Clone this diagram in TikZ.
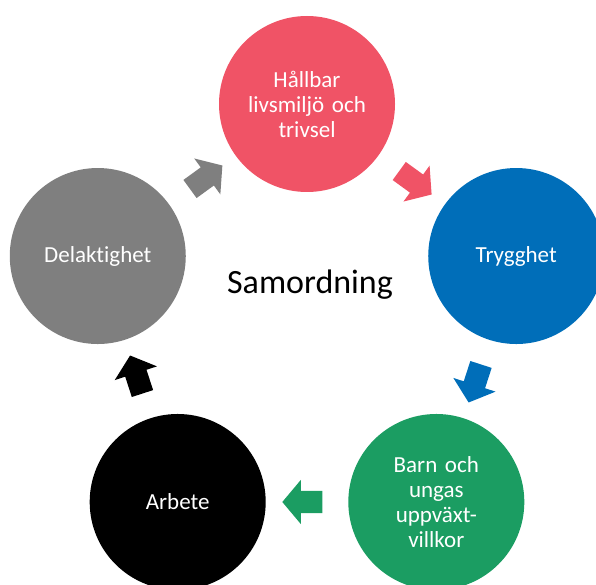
\documentclass[tikz,border=0pt]{standalone}
\usepackage{fontspec}
\setmainfont{Carlito}[Ligatures=NoCommon]
\usetikzlibrary{shapes.arrows}
\definecolor{halred}{RGB}{240,83,102}
\definecolor{trybl}{RGB}{0,110,185}
\definecolor{barngr}{RGB}{27,157,98}
\definecolor{delgr}{RGB}{127,127,127}
\definecolor{arbbk}{RGB}{0,0,0}

\begin{document}
\begin{tikzpicture}[x=1pt,y=1pt,
  area/.style={circle, minimum size=176pt, inner sep=0pt, text width=150pt, align=center,
    text=white, font=\fontsize{23}{25}\selectfont},
  blockarrow/.style={single arrow, draw=none, minimum height=40pt, inner xsep=0pt,
    inner ysep=11pt, single arrow head extend=11pt, single arrow tip angle=100}]
\useasboundingbox (0,0) rectangle (596,584);
\coordinate (c) at (307,260);
\foreach \ang/\nm/\col/\txt in {90/hal/halred/{Hållbar\\livsmiljö och\\trivsel},
  18/try/trybl/Trygghet, -54/barn/barngr/{Barn och\\ungas\\uppväxt-\\villkor},
  -126/arb/arbbk/Arbete, 162/del/delgr/Delaktighet}
  \node[area, fill=\col] (\nm) at ([shift={(\ang:220)}]c) {\txt};
\node[font=\fontsize{34}{40}\selectfont] (samo) at (310,299) {Samordning};
% arrows between the circles
\foreach \a/\b/\col in {del/hal/delgr, hal/try/halred, try/barn/trybl, barn/arb/barngr, arb/del/arbbk}
  \path (\a) -- (\b) node[blockarrow, fill=\col, pos=0.5, sloped, allow upside down] (\a-arrow) {};
\end{tikzpicture}
\end{document}
